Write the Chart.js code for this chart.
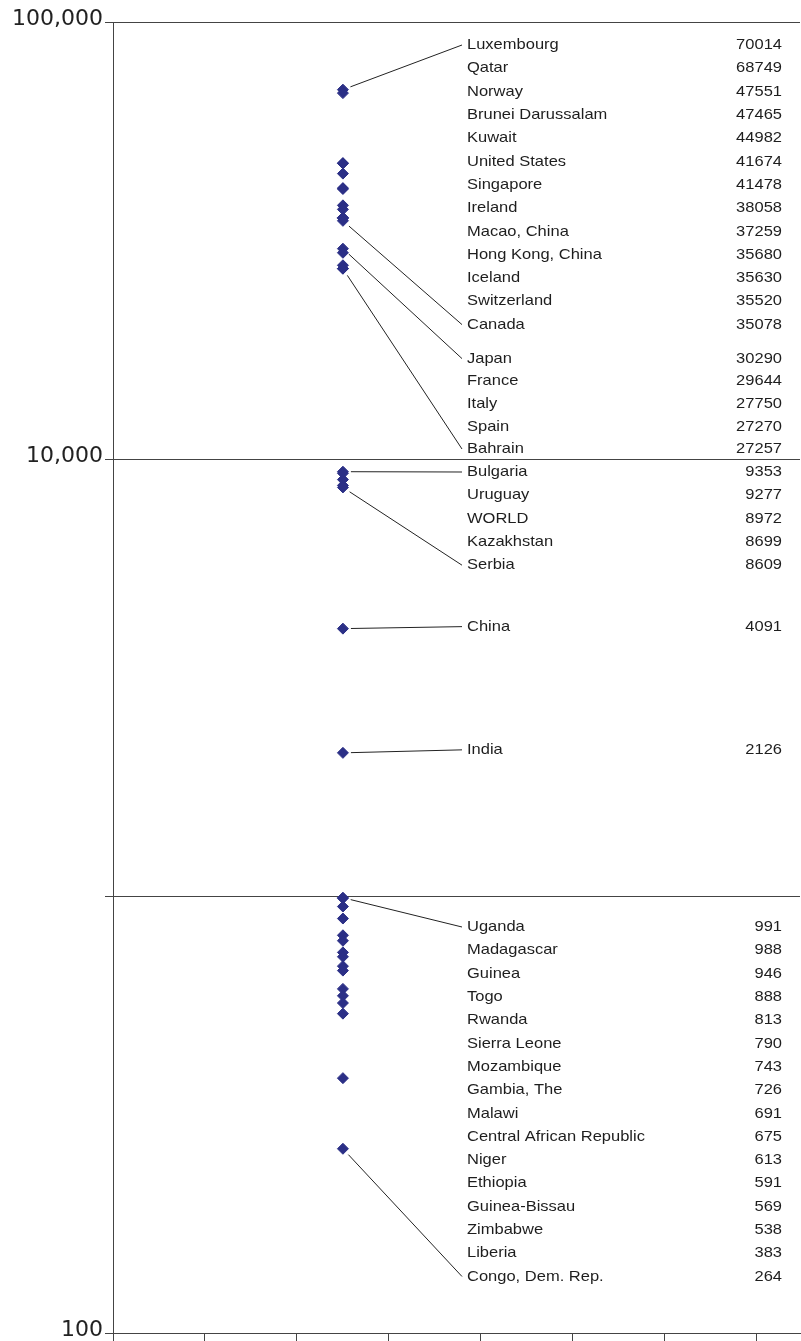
<!DOCTYPE html>
<html>
<head>
<meta charset="utf-8">
<script src="https://cdn.jsdelivr.net/npm/chart.js@4/dist/chart.umd.min.js"></script>
<style>
  body { margin: 0; background: #fff; }
  #wrap { width: 801px; height: 1341px; }
</style>
</head>
<body>
<div id="wrap"><canvas id="chart" width="801" height="1341"></canvas></div>
<script>
'use strict'

/* ------------------------------ Data ------------------------------ */

const countries = [
  'Luxembourg', 'Qatar', 'Norway', 'Brunei Darussalam', 'Kuwait', 'United States',
  'Singapore', 'Ireland', 'Macao, China', 'Hong Kong, China', 'Iceland', 'Switzerland',
  'Canada', 'Japan', 'France', 'Italy', 'Spain', 'Bahrain',
  'Bulgaria', 'Uruguay', 'WORLD', 'Kazakhstan', 'Serbia',
  'China', 'India',
  'Uganda', 'Madagascar', 'Guinea', 'Togo', 'Rwanda', 'Sierra Leone', 'Mozambique',
  'Gambia, The', 'Malawi', 'Central African Republic', 'Niger', 'Ethiopia',
  'Guinea-Bissau', 'Zimbabwe', 'Liberia', 'Congo, Dem. Rep.'
]

const gdpPerCapita = [
  70014, 68749, 47551, 47465, 44982, 41674,
  41478, 38058, 37259, 35680, 35630, 35520,
  35078, 30290, 29644, 27750, 27270, 27257,
  9353, 9277, 8972, 8699, 8609,
  4091, 2126,
  991, 988, 946, 888, 813, 790, 743,
  726, 691, 675, 613, 591,
  569, 538, 383, 264
]

const yTicks = [100, 1000, 10000, 100000]
const yTickLabels = ['100', '', '10,000', '100,000']

// countries whose label gets a leader line back to its marker
const leaders = ['Luxembourg', 'Canada', 'Japan', 'Bahrain', 'Bulgaria', 'Serbia',
  'China', 'India', 'Uganda', 'Congo, Dem. Rep.']

const pointX = 2.5

/* ------------------------------ Label column ------------------------------ */

const ROW = 23.3
const NAME_X = 467
const VALUE_X = 782
const TEXT_FONT = '15px "Liberation Sans", Arial, sans-serif'

// work out where each row of the label column sits
function labelRows (y) {
  const rows = new Array(countries.length)
  const top = y.getPixelForValue(100000)
  const ten = y.getPixelForValue(10000)
  const one = y.getPixelForValue(1000)
  for (let i = 0; i <= 12; i++) rows[i] = top + 23 + i * ROW
  for (let i = 13; i <= 17; i++) rows[i] = ten - 10 - (17 - i) * 22.6
  for (let i = 18; i <= 22; i++) rows[i] = ten + 13 + (i - 18) * ROW
  rows[23] = y.getPixelForValue(gdpPerCapita[23]) - 2
  rows[24] = y.getPixelForValue(gdpPerCapita[24]) - 3
  for (let i = 25; i < countries.length; i++) rows[i] = one + 31 + (i - 25) * ROW
  return rows
}

function stretchedText (ctx, txt, x, y, align) {
  ctx.save()
  ctx.translate(x, y)
  ctx.scale(1.1, 1)
  ctx.textAlign = align
  ctx.fillText(txt, 0, 0)
  ctx.restore()
}

const labelPlugin = {
  id: 'labelColumn',
  afterDraw (chart) {
    const ctx = chart.ctx
    const xs = chart.scales.x
    const ys = chart.scales.y
    const rows = labelRows(ys)

    ctx.save()
    ctx.font = TEXT_FONT
    ctx.fillStyle = '#1e1e1e'
    ctx.textBaseline = 'middle'
    countries.forEach((c, i) => {
      stretchedText(ctx, c, NAME_X, rows[i], 'left')
      stretchedText(ctx, String(gdpPerCapita[i]), VALUE_X, rows[i], 'right')
    })

    // leader lines
    ctx.strokeStyle = '#222'
    ctx.lineWidth = 1
    leaders.forEach(name => {
      const i = countries.indexOf(name)
      const px = xs.getPixelForValue(pointX)
      const py = ys.getPixelForValue(gdpPerCapita[i])
      const ex = NAME_X - 5
      const ey = rows[i]
      const dx = ex - px
      const dy = ey - py
      const len = Math.sqrt(dx * dx + dy * dy)
      const off = 8
      ctx.beginPath()
      ctx.moveTo(px + dx / len * off, py + dy / len * off)
      ctx.lineTo(ex, ey)
      ctx.stroke()
    })
    ctx.restore()
  }
}

/* ------------------------------ Chart ------------------------------ */

const ctx = document.getElementById('chart').getContext('2d')

new Chart(ctx, {
  type: 'scatter',
  data: {
    datasets: [{
      data: gdpPerCapita.map(v => ({ x: pointX, y: v })),
      pointStyle: 'rectRot',
      pointRadius: 5.5,
      backgroundColor: '#2b2f86',
      borderColor: '#2b2f86',
      borderWidth: 1
    }]
  },
  options: {
    responsive: false,
    animation: false,
    layout: { autoPadding: false, padding: { top: 22, right: 1, bottom: 0, left: 0 } },
    plugins: {
      legend: { display: false },
      tooltip: { enabled: false }
    },
    scales: {
      x: {
        type: 'linear',
        min: 0,
        max: 7.47,
        afterBuildTicks: scale => {
          scale.ticks = [0, 1, 2, 3, 4, 5, 6, 7].map(v => ({ value: v }))
        },
        afterFit: scale => {
          scale.height = 8
          scale.paddingLeft = 0
          scale.paddingRight = 0
        },
        ticks: { display: false },
        grid: { drawOnChartArea: false, tickLength: 8, color: '#444' },
        border: { color: '#444' }
      },
      y: {
        type: 'logarithmic',
        min: 100,
        max: 100000,
        afterBuildTicks: scale => {
          scale.ticks = yTicks.map(v => ({ value: v }))
        },
        afterFit: scale => {
          scale.width = 113
          scale.paddingTop = 0
          scale.paddingBottom = 0
        },
        ticks: {
          padding: 2,
          labelOffset: -3,
          color: '#222',
          font: { family: '"DejaVu Sans", sans-serif', size: 22 },
          callback: (v) => yTickLabels[yTicks.indexOf(v)]
        },
        grid: { tickLength: 8, color: '#444' },
        border: { color: '#444' }
      }
    }
  },
  plugins: [labelPlugin]
})
</script>
</body>
</html>
